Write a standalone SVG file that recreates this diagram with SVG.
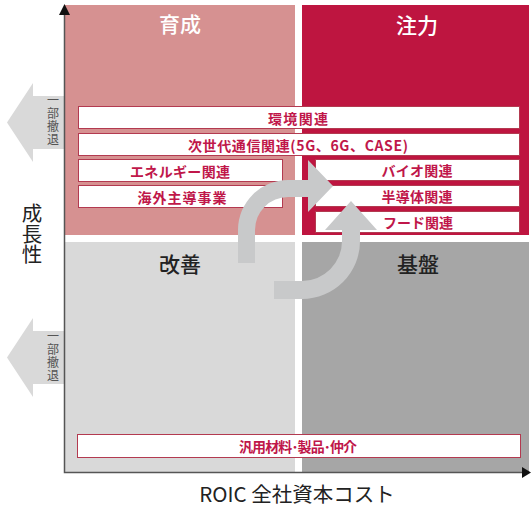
<svg xmlns="http://www.w3.org/2000/svg" width="531" height="509" viewBox="0 0 531 509">
<style>
text{font-family:"Noto Sans CJK JP","Noto Sans",sans-serif;}
.q{font-size:21px;font-weight:500;text-anchor:middle;dominant-baseline:central}
.box{fill:#fff;stroke:#b33a50;stroke-width:1}
.bt{font-size:14px;font-weight:bold;fill:#c0174a;text-anchor:middle;dominant-baseline:central}
.wd{font-size:12px;fill:#555;text-anchor:middle;writing-mode:vertical-rl;letter-spacing:1px}
.ax{stroke:#555;stroke-width:1.5;fill:none}
.garrow{fill:#c8c9ca}
.larrow{fill:#d9d9d9}
.lbl{fill:#222;text-anchor:middle}
</style>
<g id="quadrants">
<rect id="q-ikusei" x="65" y="5" width="230" height="230" fill="#d69191"/>
<rect id="q-chuuryoku" x="302" y="5" width="227" height="230" fill="#be1540"/>
<rect id="q-kaizen" x="65" y="242" width="230" height="230" fill="#d9d9d9"/>
<rect id="q-kiban" x="302" y="242" width="227" height="230" fill="#a6a6a6"/>
</g>
<g id="withdraw-top">
<path class="larrow" d="M7,122.5 L33,83 L33,96 L64,96 L64,149 L33,149 L33,162 Z"/>
<text class="wd" x="53" y="120">一部撤退</text>
</g>
<g id="withdraw-bottom">
<path class="larrow" d="M7,357.5 L33,318 L33,331 L64,331 L64,384 L33,384 L33,397 Z"/>
<text class="wd" x="53" y="356">一部撤退</text>
</g>
<g id="node-kankyo"><rect class="box" x="78.5" y="106.5" width="441" height="22"/><text class="bt" x="298" y="117.5" textLength="60" lengthAdjust="spacing">環境関連</text></g>
<g id="node-jisedai"><rect class="box" x="78.5" y="133.5" width="441" height="22"/><text class="bt" x="298" y="144.5" textLength="220" lengthAdjust="spacing">次世代通信関連(5G、6G、CASE)</text></g>
<g id="node-energy"><rect class="box" x="78.5" y="159.5" width="204" height="22"/><text class="bt" x="180" y="170.5" textLength="100" lengthAdjust="spacing">エネルギー関連</text></g>
<g id="node-kaigai"><rect class="box" x="78.5" y="185.5" width="204" height="22"/><text class="bt" x="182" y="196.5" textLength="89" lengthAdjust="spacing">海外主導事業</text></g>
<g id="node-bio"><rect class="box" x="315.5" y="159.5" width="204" height="21"/><text class="bt" x="417" y="170" textLength="71" lengthAdjust="spacing">バイオ関連</text></g>
<g id="node-semicon"><rect class="box" x="315.5" y="185.5" width="204" height="21"/><text class="bt" x="417" y="196" textLength="71" lengthAdjust="spacing">半導体関連</text></g>
<g id="node-food"><rect class="box" x="315.5" y="211.5" width="204" height="21"/><text class="bt" x="418" y="222" textLength="70" lengthAdjust="spacing">フード関連</text></g>
<g id="node-hanyou"><rect class="box" x="77.5" y="434.5" width="443" height="23"/><text class="bt" x="298" y="446" textLength="118" lengthAdjust="spacing">汎用材料･製品･仲介</text></g>
<g id="connectors">
<path class="garrow" d="M238,263 L238,230 A50,50 0 0 1 288,180 L308,180 L308,160 L333,186 L308,212 L308,197 L288,197 A33,33 0 0 0 255,230 L255,263 Z"/>
<path class="garrow" d="M274,281 L302,281 A40,40 0 0 0 342,241 L342,230 L325,230 L351,201 L377,230 L360,230 L360,241 A58,58 0 0 1 302,299 L274,299 Z"/>
</g>
<g id="quadrant-labels">
<text class="q" x="180" y="23" fill="#fff">育成</text>
<text class="q" x="417" y="24" fill="#fff">注力</text>
<text class="q" x="180" y="263" fill="#222">改善</text>
<text class="q" x="418" y="262.5" fill="#222">基盤</text>
</g>
<g id="axes">
<path class="ax" d="M64.5,14 L64.5,472.5 L523,472.5"/>
<path d="M59,15 L64.5,4 L70,15 Z" fill="#111"/>
<path d="M522,467 L531,472.5 L522,478 Z" fill="#111"/>
</g>
<g id="axis-labels">
<text class="lbl" x="32" y="234" style="font-size:20.5px;writing-mode:vertical-rl">成長性</text>
<text class="lbl" x="297" y="502" fill="#333" style="font-size:20.5px">ROIC 全社資本コスト</text>
</g>
</svg>
